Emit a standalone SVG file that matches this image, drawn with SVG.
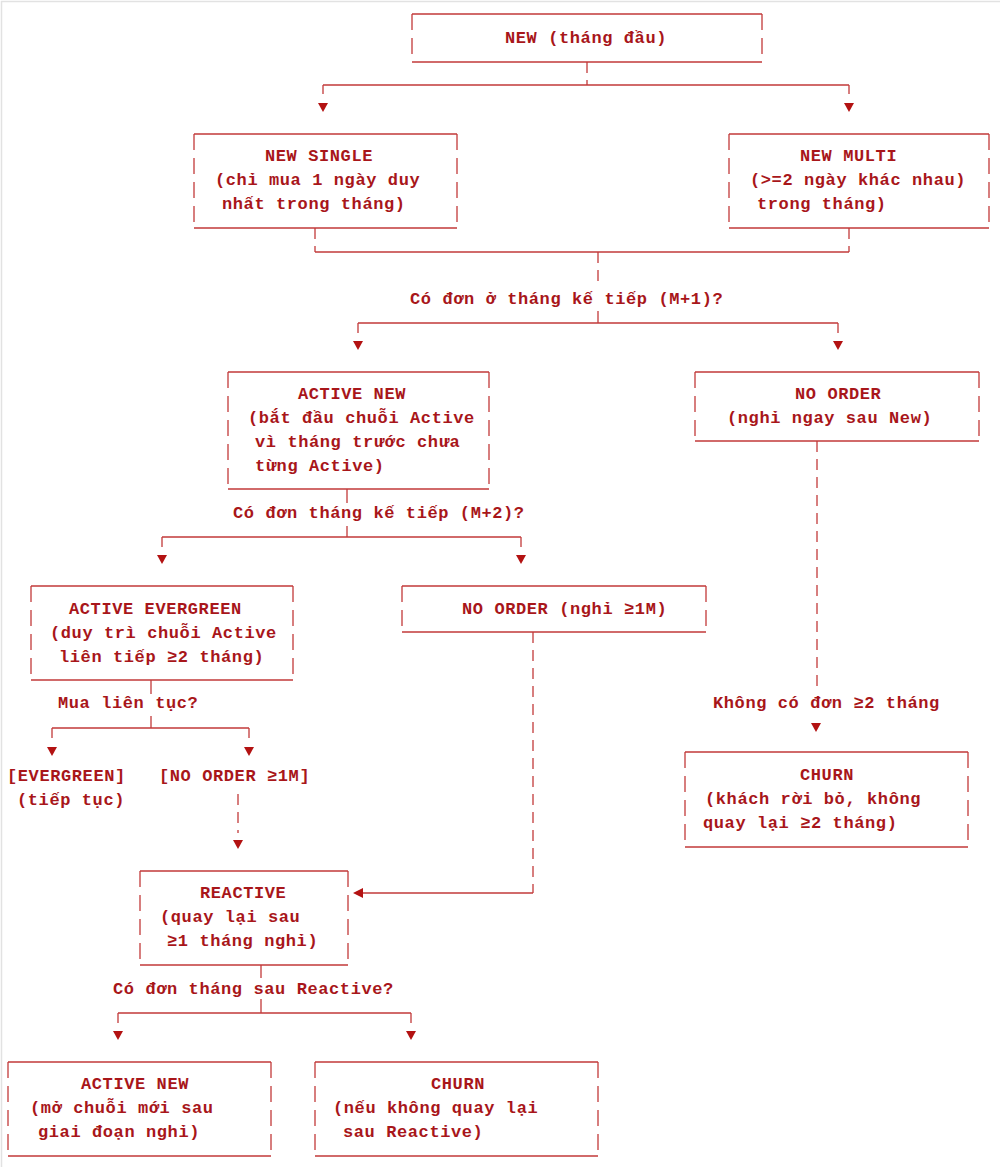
<svg xmlns="http://www.w3.org/2000/svg" width="1000" height="1167" viewBox="0 0 1000 1167">
<defs>
<style>
.t{font-family:"Liberation Mono","DejaVu Sans Mono",monospace;font-weight:bold;font-size:17px;letter-spacing:0.6px;fill:#a8161a}
.solid{stroke:#c23a3a;stroke-width:1.3;fill:none}
.side{stroke:#c23a3a;stroke-width:1.3;fill:none;stroke-dasharray:16 8}
.dash{stroke:#c23a3a;stroke-width:1.3;fill:none;stroke-dasharray:11 7}
.arr{fill:#b31212}
</style>
<path id="down" d="M-5,0 L5,0 L0,9 Z"/>
</defs>
<rect x="0" y="0" width="1000" height="1167" fill="#ffffff"/>
<path d="M1.5,1167 V1.5 H1000" stroke="#e2e2e2" stroke-width="1.5" fill="none"/>

<g id="connectors">
  <path class="dash" d="M587,62 V85"/>
  <path class="solid" d="M323,85 H849 M323,85 V94 M849,85 V94"/>
  <use href="#down" class="arr" x="323" y="103"/>
  <use href="#down" class="arr" x="849" y="103"/>

  <path class="dash" d="M315,228 V252 M849,228 V252"/>
  <path class="solid" d="M315,252 H849"/>
  <path class="dash" d="M598,252 V288"/>
  <path class="solid" d="M598,311 V323 M358,323 H838 M358,323 V333 M838,323 V333"/>
  <use href="#down" class="arr" x="358" y="341"/>
  <use href="#down" class="arr" x="838" y="341"/>

  <path class="solid" d="M347,489 V503 M347,526 V537 M162,537 H521 M162,537 V547 M521,537 V547"/>
  <use href="#down" class="arr" x="162" y="555"/>
  <use href="#down" class="arr" x="521" y="555"/>

  <path class="solid" d="M151,680 V694 M151,716 V728 M52,728 H249 M52,728 V738 M249,728 V738"/>
  <use href="#down" class="arr" x="52" y="747"/>
  <use href="#down" class="arr" x="249" y="747"/>

  <path class="dash" d="M238,794 V833"/>
  <use href="#down" class="arr" x="238" y="840"/>

  <path class="dash" d="M533,632 V893"/>
  <path class="solid" d="M533,893 H362"/>
  <path class="arr" d="M353,893 L363,888 L363,898 Z"/>

  <path class="dash" d="M817,441 V690"/>
  <use href="#down" class="arr" x="816" y="723"/>

  <path class="solid" d="M261,965 V978 M261,999 V1013 M118,1013 H411 M118,1013 V1023 M411,1013 V1023"/>
  <use href="#down" class="arr" x="118" y="1031"/>
  <use href="#down" class="arr" x="411" y="1031"/>

  <text class="t" x="410" y="304">Có đơn ở tháng kế tiếp (M+1)?</text>
  <text class="t" x="233" y="518">Có đơn tháng kế tiếp (M+2)?</text>
  <text class="t" x="58" y="708">Mua liên tục?</text>
  <text class="t" x="713" y="708">Không có đơn ≥2 tháng</text>
  <text class="t" x="113" y="994">Có đơn tháng sau Reactive?</text>
</g>

<g id="node-new">
  <path class="solid" d="M412,14 H762 M412,62 H762"/>
  <path class="side" d="M412,14 V62 M762,14 V62"/>
  <text class="t" x="505" y="43">NEW (tháng đầu)</text>
</g>

<g id="node-new-single">
  <path class="solid" d="M194,134 H457 M194,228 H457"/>
  <path class="side" d="M194,134 V228 M457,134 V228"/>
  <text class="t" x="265" y="161">NEW SINGLE</text>
  <text class="t" x="215" y="185">(chỉ mua 1 ngày duy</text>
  <text class="t" x="222" y="209">nhất trong tháng)</text>
</g>

<g id="node-new-multi">
  <path class="solid" d="M729,134 H989 M729,228 H989"/>
  <path class="side" d="M729,134 V228 M989,134 V228"/>
  <text class="t" x="800" y="161">NEW MULTI</text>
  <text class="t" x="750" y="185">(&gt;=2 ngày khác nhau)</text>
  <text class="t" x="757" y="209">trong tháng)</text>
</g>

<g id="node-active-new">
  <path class="solid" d="M228,372 H489 M228,489 H489"/>
  <path class="side" d="M228,372 V489 M489,372 V489"/>
  <text class="t" x="298" y="399">ACTIVE NEW</text>
  <text class="t" x="248" y="423">(bắt đầu chuỗi Active</text>
  <text class="t" x="255" y="447">vì tháng trước chưa</text>
  <text class="t" x="255" y="471">từng Active)</text>
</g>

<g id="node-no-order-new">
  <path class="solid" d="M695,372 H979 M695,441 H979"/>
  <path class="side" d="M695,372 V441 M979,372 V441"/>
  <text class="t" x="795" y="399">NO ORDER</text>
  <text class="t" x="727" y="423">(nghỉ ngay sau New)</text>
</g>

<g id="node-active-evergreen">
  <path class="solid" d="M31,586 H293 M31,680 H293"/>
  <path class="side" d="M31,586 V680 M293,586 V680"/>
  <text class="t" x="69" y="614">ACTIVE EVERGREEN</text>
  <text class="t" x="50" y="638">(duy trì chuỗi Active</text>
  <text class="t" x="59" y="662">liên tiếp ≥2 tháng)</text>
</g>

<g id="node-no-order-1m">
  <path class="solid" d="M402,586 H706 M402,632 H706"/>
  <path class="side" d="M402,586 V632 M706,586 V632"/>
  <text class="t" x="462" y="614">NO ORDER (nghỉ ≥1M)</text>
</g>

<g id="node-evergreen">
  <text class="t" x="7" y="781">[EVERGREEN]</text>
  <text class="t" x="17" y="805">(tiếp tục)</text>
</g>

<g id="node-no-order-ge1m">
  <text class="t" x="159" y="781">[NO ORDER ≥1M]</text>
</g>

<g id="node-churn-right">
  <path class="solid" d="M685,752 H968 M685,847 H968"/>
  <path class="side" d="M685,752 V847 M968,752 V847"/>
  <text class="t" x="800" y="780">CHURN</text>
  <text class="t" x="705" y="804">(khách rời bỏ, không</text>
  <text class="t" x="703" y="828">quay lại ≥2 tháng)</text>
</g>

<g id="node-reactive">
  <path class="solid" d="M140,871 H348 M140,965 H348"/>
  <path class="side" d="M140,871 V965 M348,871 V965"/>
  <text class="t" x="200" y="898">REACTIVE</text>
  <text class="t" x="160" y="922">(quay lại sau</text>
  <text class="t" x="167" y="946">≥1 tháng nghỉ)</text>
</g>

<g id="node-active-new-2">
  <path class="solid" d="M8,1062 H271 M8,1156 H271"/>
  <path class="side" d="M8,1062 V1156 M271,1062 V1156"/>
  <text class="t" x="81" y="1089">ACTIVE NEW</text>
  <text class="t" x="30" y="1113">(mở chuỗi mới sau</text>
  <text class="t" x="38" y="1137">giai đoạn nghỉ)</text>
</g>

<g id="node-churn-bottom">
  <path class="solid" d="M315,1062 H598 M315,1156 H598"/>
  <path class="side" d="M315,1062 V1156 M598,1062 V1156"/>
  <text class="t" x="431" y="1089">CHURN</text>
  <text class="t" x="333" y="1113">(nếu không quay lại</text>
  <text class="t" x="343" y="1137">sau Reactive)</text>
</g>
</svg>
